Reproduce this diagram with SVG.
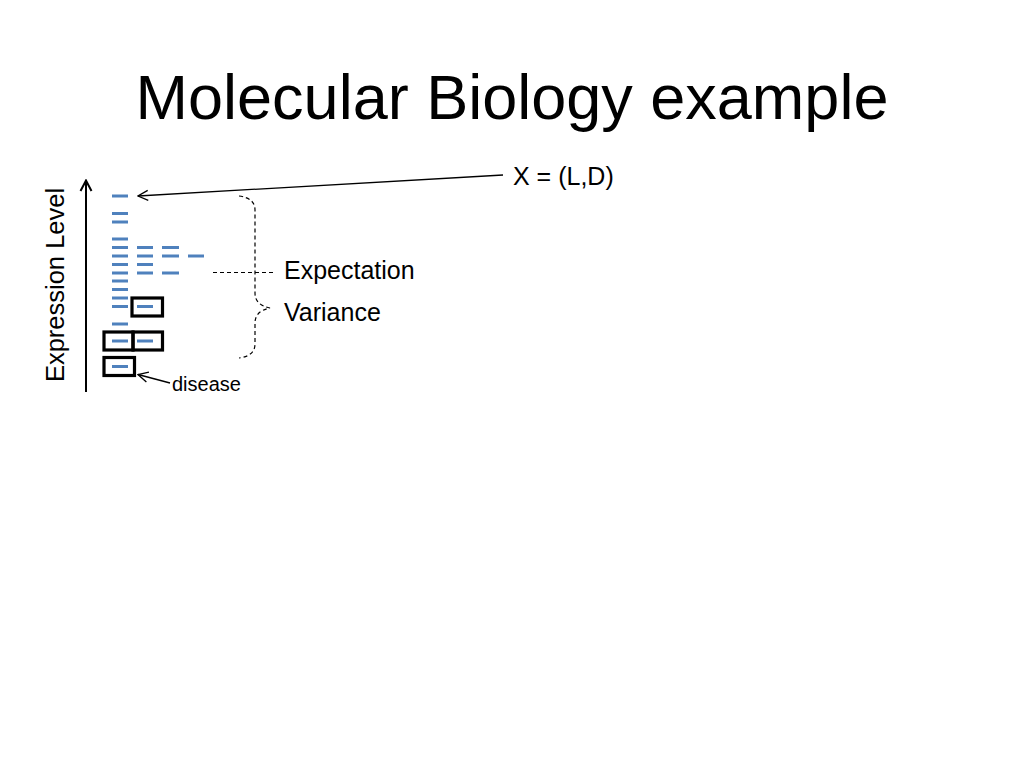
<svg xmlns="http://www.w3.org/2000/svg" width="1024" height="768" viewBox="0 0 1024 768">
<style>
text{font-family:"Liberation Sans",Arial,sans-serif;fill:#000}
.d{stroke:#4F81BD;stroke-width:3;fill:none}
.b{stroke:#000;stroke-width:3.2;fill:none}
.ln{stroke:#000;stroke-width:1.3;fill:none}
.ax{stroke:#000;stroke-width:2;fill:none}
.dash{stroke:#000;stroke-width:1.2;fill:none;stroke-dasharray:4,3}
</style>
<defs>
<marker id="open" viewBox="0 0 12 12" refX="11" refY="6" markerWidth="12" markerHeight="12" markerUnits="userSpaceOnUse" orient="auto">
<path d="M1,1 L11,6 L1,11" fill="none" stroke="#000" stroke-width="1.3"/>
</marker>
<marker id="openAx" viewBox="0 0 14 14" refX="13" refY="7" markerWidth="14" markerHeight="14" markerUnits="userSpaceOnUse" orient="auto">
<path d="M2,1.5 L12.5,7 L2,12.5" fill="none" stroke="#000" stroke-width="2"/>
</marker>
</defs>
<rect width="1024" height="768" fill="#fff"/>
<text id="title" x="512" y="119" font-size="63" text-anchor="middle">Molecular Biology example</text>
<g id="axis">
<line class="ax" x1="86" y1="392" x2="86" y2="180" marker-end="url(#openAx)"/>
<text x="64" y="285" font-size="25.5" text-anchor="middle" transform="rotate(-90 64 285)">Expression Level</text>
</g>
<g id="data">
<path class="d" d="M112,196H128 M112,213.5H128 M112,222H128 M112,239H128 M112,247.5H128 M112,256H128 M112,264.5H128 M112,273H128 M112,281H128 M112,289.5H128 M112,298H128 M112,306.5H128 M112,324H128 M112,341H128 M112,366.5H128"/>
<path class="d" d="M137,247.5H153 M137,256H153 M137,264.5H153 M137,273H153 M137,306.5H153 M137,341H153"/>
<path class="d" d="M162,247.5H179 M162,256H179 M162,273H179"/>
<path class="d" d="M188,256H204"/>
</g>
<g id="boxes">
<rect class="b" x="132" y="298" width="30.5" height="18"/>
<rect class="b" x="104" y="332" width="29" height="18"/>
<rect class="b" x="133" y="332" width="29.5" height="18"/>
<rect class="b" x="104" y="357.5" width="30.5" height="18"/>
</g>
<g id="connectors">
<line class="ln" x1="503" y1="175" x2="138" y2="196" marker-end="url(#open)"/>
<line class="ln" x1="170" y1="383" x2="138" y2="374.5" marker-end="url(#open)"/>
<line class="dash" x1="213" y1="272.5" x2="275" y2="272.5"/>
<path class="dash" d="M239,196 Q255,198 255,210 L255,293 Q255,305 270,308 Q255,311 255,323 L255,344 Q255,356 239,358"/>
</g>
<g id="labels">
<text x="513" y="185" font-size="25">X = (L,D)</text>
<text x="284" y="279" font-size="25">Expectation</text>
<text x="284" y="321" font-size="25">Variance</text>
<text x="172" y="391" font-size="20">disease</text>
</g>
</svg>
